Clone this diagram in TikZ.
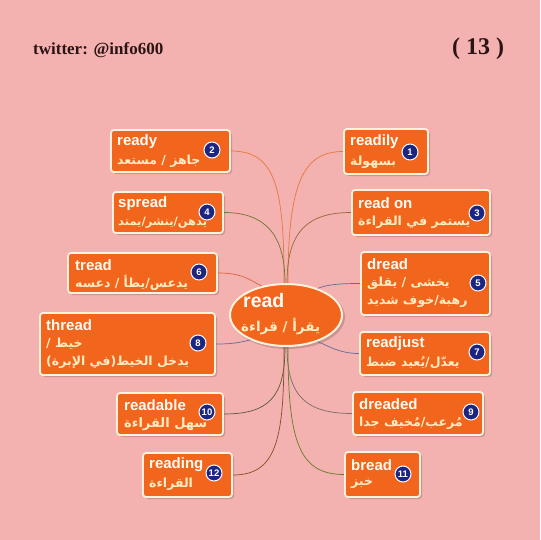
\documentclass[tikz,border=0pt]{standalone}
\usepackage{fontspec}
\setmainfont{Liberation Sans}
\newfontfamily\arabicfont[Script=Arabic]{DejaVu Sans}
\newfontfamily\hdrfont{Liberation Serif}
\TeXXeTstate=1
\usetikzlibrary{shapes.geometric,fit}
\definecolor{bgpink}{RGB}{243,177,175}
\definecolor{boxor}{RGB}{241,101,28}
\definecolor{boxrim}{RGB}{255,242,220}
\definecolor{navy}{RGB}{28,38,130}
\definecolor{entxt}{RGB}{255,252,245}
\definecolor{artxt}{RGB}{255,236,195}
\definecolor{hdrtxt}{RGB}{45,20,20}
\definecolor{lorange}{RGB}{230,120,60}
\definecolor{lbrown}{RGB}{150,105,60}
\definecolor{lolive}{RGB}{105,120,50}
\definecolor{lslate}{RGB}{95,110,155}
\definecolor{lred}{RGB}{222,100,60}
\definecolor{lgray}{RGB}{120,110,100}
\definecolor{ldark}{RGB}{90,90,55}
\definecolor{lgreen}{RGB}{100,125,40}
\definecolor{lbrn}{RGB}{130,80,40}
\tikzset{
  wbox/.style={rectangle, rounded corners=3pt, fill=boxor, draw=boxrim, line width=1.8pt, inner sep=0pt},
  shad/.style={fill=black, opacity=0.16, rounded corners=3pt},
  num/.style={circle, fill=navy, draw=white, line width=1pt, inner sep=0pt, minimum size=16pt, text=white, font=\bfseries\fontsize{9.5}{9.5}\selectfont},
  en/.style={anchor=west, inner sep=0pt, text=entxt, font=\bfseries\fontsize{15}{15}\selectfont},
  ar/.style={anchor=west, inner sep=0pt, text=artxt, font=\arabicfont\bfseries\fontsize{12.5}{12.5}\selectfont},
  link/.style={line width=0.7pt}
}
\newcommand\wordbox[5]{%
  \fill[shad] (#2+2,#3+2) rectangle (#4+2,#5+2);
  \node[wbox, fit={(#2,#3) (#4,#5)}] (#1) {};
}
\begin{document}
\begin{tikzpicture}[x=1pt,y=-1pt]
\fill[bgpink] (0,0) rectangle (540,540);
\useasboundingbox (0,0) rectangle (540,540);

\node[anchor=west, inner sep=0pt, text=hdrtxt, font=\hdrfont\bfseries\fontsize{17}{17}\selectfont] (hdr) at (33,50) {twitter: @info600};
\node[anchor=west, inner sep=0pt, text=hdrtxt, font=\hdrfont\bfseries\fontsize{24}{24}\selectfont] (pg) at (452,49) {( 13 )};

% boxes
\wordbox{b1}{344}{129}{428}{174}
\wordbox{b2}{111}{130}{230}{172}
\wordbox{b3}{352}{190}{490}{235}
\wordbox{b4}{113}{192}{223}{233}
\wordbox{b5}{361}{252}{490}{315}
\wordbox{b6}{68}{253}{217}{293}
\wordbox{b7}{360}{332}{490}{375}
\wordbox{b8}{40}{313}{215}{375}
\wordbox{b9}{353}{392}{483}{435}
\wordbox{b10}{117}{393}{223}{435}
\wordbox{b11}{345}{452}{420}{497}
\wordbox{b12}{143}{453}{232}{497}

% center
\fill[black, opacity=0.16] (288,317) ellipse (57 and 32);
\node[ellipse, fill=boxor, draw=boxrim, line width=2pt, minimum width=112pt, minimum height=62pt, inner sep=0pt] (c) at (286,315) {};
\node[en, font=\bfseries\fontsize{19.5}{19.5}\selectfont] (ct) at (243,301) {read};
\node[ar, font=\arabicfont\bfseries\fontsize{13.5}{13.5}\selectfont] (ca) at (241,326) {\beginR يقرأ / قراءة\endR};

% texts
\node[en] (t1) at (350,142) {readily};
\node[ar] (a1) at (350,162) {\beginR بسهولة\endR};
\node[en] (t2) at (117,142) {ready};
\node[ar] (a2) at (117,161) {\beginR جاهز / مستعد\endR};
\node[en] (t3) at (358,203) {read on};
\node[ar] (a3) at (358,222) {\beginR يستمر في القراءة\endR};
\node[en] (t4) at (118,204) {spread};
\node[ar, font=\arabicfont\bfseries\fontsize{11.5}{11.5}\selectfont] (a4) at (118,223) {\beginR يدهن/ينشر/يمتد\endR};
\node[en] (t5) at (367,264) {dread};
\node[ar] (a5) at (367,283) {\beginR يخشى / يقلق\endR};
\node[ar] (a5b) at (367,301) {\beginR رهبة/خوف شديد\endR};
\node[en] (t6) at (75,265) {tread};
\node[ar] (a6) at (75,283) {\beginR يدعس/يطأ / دعسه\endR};
\node[en] (t7) at (366,344) {readjust};
\node[ar] (a7) at (366,363) {\beginR يعدّل/يُعيد ضبط\endR};
\node[en] (t8) at (46,325) {thread};
\node[ar] (a8) at (46,344) {\beginR خيط /\endR};
\node[ar] (a8b) at (46,362) {\beginR يدخل الخيط(في الإبرة)\endR};
\node[en] (t9) at (359,404) {dreaded};
\node[ar] (a9) at (359,423) {\beginR مُرعب/مُخيف جدا\endR};
\node[en] (t10) at (124,405) {readable};
\node[ar, font=\arabicfont\bfseries\fontsize{13}{13}\selectfont] (a10) at (124,424) {\beginR سهل القراءة\endR};
\node[en] (t11) at (351,465) {bread};
\node[ar] (a11) at (351,484) {\beginR خبز\endR};
\node[en] (t12) at (149,465) {reading};
\node[ar] (a12) at (149,484) {\beginR القراءة\endR};

% numbers
\node[num] (n1) at (410,152) {1};
\node[num] (n2) at (212,150) {2};
\node[num] (n3) at (477,213) {3};
\node[num] (n4) at (207,212) {4};
\node[num] (n5) at (478,283) {5};
\node[num] (n6) at (199,272) {6};
\node[num] (n7) at (477,352) {7};
\node[num] (n8) at (198,343) {8};
\node[num] (n9) at (471,412) {9};
\node[num] (n10) at (207,412) {10};
\node[num] (n11) at (403,474) {11};
\node[num] (n12) at (214,473) {12};

% connectors
\draw[link, lorange] (b2.east) .. controls +(45,0) and +(0,-95) .. ([xshift=-2pt]c.north);
\draw[link, lolive] (b4.east) .. controls +(40,0) and +(0,-50) .. ([xshift=-1pt]c.north);
\draw[link, lorange] (b1.west) .. controls +(-40,0) and +(0,-100) .. ([xshift=2pt]c.north);
\draw[link, lbrown] (b3.west) .. controls +(-45,0) and +(0,-50) .. ([xshift=1pt]c.north);
\draw[link, lred] (b6.east) .. controls +(25,0) and +(-12,-6) .. (c.130);
\draw[link, lslate] (b5.west) .. controls +(-20,0) and +(10,-4) .. (c.40);
\draw[link, lslate] (b8.east) .. controls +(20,0) and +(-10,2) .. (c.215);
\draw[link, lslate] (b7.west) .. controls +(-20,0) and +(10,4) .. (c.-40);
\draw[link, ldark] (b10.east) .. controls +(45,0) and +(0,50) .. ([xshift=-1pt]c.south);
\draw[link, lbrn] (b12.east) .. controls +(45,0) and +(0,90) .. ([xshift=-2pt]c.south);
\draw[link, lgray] (b9.west) .. controls +(-45,0) and +(0,50) .. ([xshift=1pt]c.south);
\draw[link, lgreen] (b11.west) .. controls +(-45,0) and +(0,95) .. ([xshift=2pt]c.south);
\end{tikzpicture}
\end{document}
